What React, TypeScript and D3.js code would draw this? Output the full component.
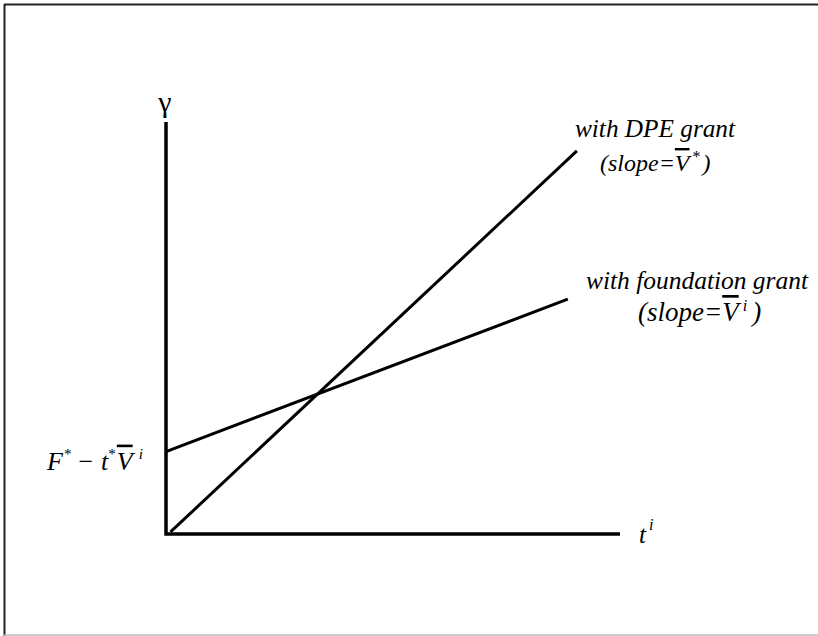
import React from "react";
import * as d3 from "d3";

// Axis domains (abstract units)
const tDomain = [0, 10];
const gammaDomain = [0, 10];

// Budget lines: endpoints in (t, gamma) units
const dpeGrant = [
  { t: 0.1, g: 0.05 },
  { t: 9.05, g: 9.3 },
];
const foundationGrant = [
  { t: 0, g: 2.0 },
  { t: 8.85, g: 5.7 },
];

const W = 818;
const H = 636;
const FONT = "'Liberation Serif', 'Times New Roman', Times, serif";

export default function App() {
  const x = d3.scaleLinear().domain(tDomain).range([166, 620]);
  const y = d3.scaleLinear().domain(gammaDomain).range([534, 122]);

  const line = d3
    .line<{ t: number; g: number }>()
    .x((d) => x(d.t))
    .y((d) => y(d.g));

  const interceptY = y(foundationGrant[0].g);
  const txt = { fontFamily: FONT };

  return (
    <svg
      width={W}
      height={H}
      style={{ position: "absolute", left: 0, top: 0, background: "#fff", fontFamily: FONT }}
    >
      {/* frame */}
      <line x1={4} y1={4.5} x2={W} y2={4.5} stroke="#222" strokeWidth={2} />
      <line x1={4.5} y1={4} x2={4.5} y2={H} stroke="#222" strokeWidth={2} />
      <line x1={4} y1={635} x2={W} y2={635} stroke="#bbb" strokeWidth={1.5} />

      {/* axes */}
      <path
        d={`M${x(0)},${y(gammaDomain[1])} L${x(0)},${y(0)} L${x(tDomain[1])},${y(0)}`}
        fill="none"
        stroke="#000"
        strokeWidth={3.5}
      />

      {/* lines */}
      <path d={line(dpeGrant) ?? ""} fill="none" stroke="#000" strokeWidth={3} />
      <path d={line(foundationGrant) ?? ""} fill="none" stroke="#000" strokeWidth={3} />

      {/* axis labels */}
      <text style={txt} x={x(0) - 1} y={y(gammaDomain[1]) - 10} fontSize={30} textAnchor="middle">
        γ
      </text>
      <text style={txt} x={x(tDomain[1]) + 19} y={y(0) + 9} fontSize={25} fontStyle="italic">
        t
        <tspan dx={3} dy={-13} fontSize={16}>i</tspan>
      </text>

      {/* intercept label */}
      <text style={txt} x={47} y={interceptY + 18} fontSize={26} fontStyle="italic">
        F
        <tspan dx={1} dy={-11} fontSize={15} fontStyle="normal">*</tspan>
        <tspan dx={7} dy={11} fontStyle="normal">−</tspan>
        <tspan dx={8}>t</tspan>
        <tspan dy={-11} fontSize={15} fontStyle="normal">*</tspan>
        <tspan dx={1} dy={11} textDecoration="overline">V</tspan>
        <tspan dx={6} dy={-11} fontSize={15}>i</tspan>
      </text>

      {/* DPE label */}
      <text style={txt} x={575} y={137} fontSize={25} fontStyle="italic" textLength={160} lengthAdjust="spacingAndGlyphs">
        with DPE grant
      </text>
      <text style={txt} x={600} y={171} fontSize={24} fontStyle="italic">
        (slope=
        <tspan textDecoration="overline">V</tspan>
        <tspan dx={3} dy={-9} fontSize={16} fontStyle="normal">*</tspan>
        <tspan dx={2} dy={9}>)</tspan>
      </text>

      {/* foundation label */}
      <text style={txt} x={586} y={289} fontSize={25} fontStyle="italic" textLength={222} lengthAdjust="spacingAndGlyphs">
        with foundation grant
      </text>
      <text style={txt} x={638} y={321} fontSize={27} fontStyle="italic">
        (slope=
        <tspan textDecoration="overline">V</tspan>
        <tspan dx={4} dy={-10} fontSize={16}>i</tspan>
        <tspan dx={5} dy={10}>)</tspan>
      </text>
    </svg>
  );
}
